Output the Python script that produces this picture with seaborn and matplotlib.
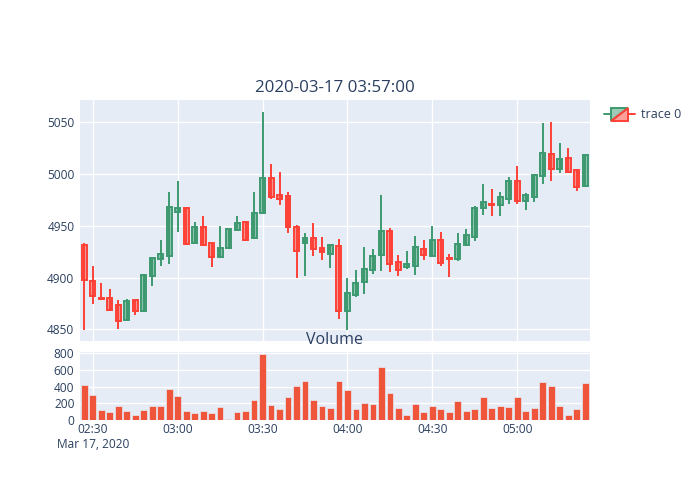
import numpy as np
import pandas as pd
import matplotlib
matplotlib.use("Agg")
import matplotlib.pyplot as plt
from matplotlib.patches import Polygon
from matplotlib.lines import Line2D
from matplotlib.legend_handler import HandlerBase
import seaborn as sns

# 3-minute candles, 2020-03-17 02:27 -> 05:24
times = pd.date_range("2020-03-17 02:27", periods=60, freq="3min")

open_ = [4931.9, 4896.8, 4880.6, 4880.3, 4873.9, 4858.7, 4878.1, 4867.7, 4901.9, 4918.1,
         4920.6, 4963.5, 4966.8, 4933.5, 4948.4, 4932.9, 4919.4, 4929.0, 4945.8, 4953.5,
         4938.4, 4961.9, 4996.5, 4980.0, 4978.7, 4949.0, 4933.5, 4938.4, 4928.7, 4923.2,
         4930.6, 4867.7, 4882.9, 4895.8, 4907.1, 4921.6, 4944.8, 4914.8, 4909.7, 4911.3,
         4927.1, 4921.0, 4936.1, 4919.0, 4917.7, 4931.3, 4939.4, 4967.4, 4971.3, 4969.7,
         4975.5, 4993.5, 4973.9, 4978.1, 4998.1, 5019.4, 5004.5, 5015.2, 5003.5, 4988.4]
high = [4933.5, 4911.6, 4894.8, 4889.4, 4878.7, 4879.7, 4878.7, 4903.0, 4920.0, 4936.1,
        4982.3, 4992.9, 4967.0, 4953.2, 4959.7, 4934.0, 4949.7, 4947.0, 4959.7, 4954.5,
        4982.9, 5059.7, 5009.4, 5002.3, 4982.3, 4951.0, 4943.5, 4952.3, 4938.7, 4932.0,
        4937.7, 4899.7, 4907.1, 4929.7, 4927.4, 4979.7, 4947.4, 4921.9, 4925.8, 4940.0,
        4936.1, 4949.7, 4944.2, 4922.3, 4942.6, 4946.8, 4969.0, 4990.0, 4985.2, 4982.9,
        4997.4, 5007.7, 4981.9, 5000.0, 5049.0, 5050.0, 5029.7, 5024.8, 5004.5, 5018.5]
low = [4849.7, 4874.8, 4878.1, 4867.7, 4850.6, 4858.0, 4864.2, 4867.0, 4892.3, 4911.3,
       4913.5, 4944.2, 4931.3, 4933.0, 4930.6, 4910.3, 4919.0, 4928.0, 4945.0, 4935.2,
       4937.7, 4961.0, 4975.5, 4970.0, 4943.5, 4900.0, 4901.3, 4921.0, 4916.8, 4909.4,
       4860.3, 4849.7, 4881.3, 4884.5, 4903.2, 4906.5, 4905.5, 4901.9, 4908.7, 4902.3,
       4916.8, 4920.0, 4911.3, 4900.6, 4916.1, 4930.6, 4935.2, 4960.3, 4959.7, 4959.7,
       4970.6, 4970.6, 4965.2, 4972.6, 4990.3, 4993.2, 5000.6, 5001.3, 4983.9, 4988.0]
close = [4898.1, 4881.9, 4879.0, 4869.0, 4857.7, 4877.1, 4867.7, 4902.9, 4919.0, 4922.3,
         4968.4, 4967.4, 4932.3, 4948.4, 4931.3, 4920.0, 4928.1, 4946.5, 4952.3, 4936.1,
         4961.9, 4996.5, 4978.1, 4975.5, 4948.4, 4925.8, 4938.4, 4927.7, 4924.2, 4931.9,
         4867.7, 4885.2, 4895.2, 4908.1, 4921.0, 4945.2, 4913.5, 4907.7, 4913.5, 4929.7,
         4921.3, 4936.1, 4914.2, 4917.7, 4932.3, 4941.0, 4966.8, 4973.2, 4969.7, 4977.4,
         4993.5, 4973.9, 4979.7, 4999.0, 5020.6, 5004.5, 5014.2, 5002.3, 4987.1, 5018.1]
volume = [416, 303, 121, 93, 170, 105, 61, 121, 166, 170,
          376, 291, 105, 89, 105, 82, 156, 8, 98, 111,
          238, 795, 176, 131, 279, 414, 463, 242, 172, 144,
          472, 365, 131, 205, 189, 640, 320, 139, 57, 189,
          98, 172, 127, 98, 225, 107, 135, 271, 144, 164,
          152, 271, 103, 148, 459, 414, 168, 66, 135, 439]

tick_times = pd.date_range("2020-03-17 02:30", "2020-03-17 05:00", freq="30min")
tick_labels = ["02:30\nMar 17, 2020", "03:00", "03:30", "04:00", "04:30", "05:00"]
title = "2020-03-17 03:57:00"

UP = "#3D9970"
DOWN = "#FF4136"
BAR = "#EF553B"
BG = "#E5ECF6"
TXT = "#2a3f5f"

sns.set_theme(style="darkgrid", rc={
    "axes.facecolor": BG, "grid.color": "white", "grid.linewidth": 1.0,
    "axes.edgecolor": BG, "xtick.color": TXT, "ytick.color": TXT,
    "text.color": TXT, "axes.labelcolor": TXT,
})
plt.rcParams["font.family"] = ["Open Sans", "DejaVu Sans"]

df = pd.DataFrame({"time": times, "open": open_, "high": high,
                   "low": low, "close": close, "volume": volume})
df["minute"] = (df["time"] - times[0]).dt.total_seconds() / 60
tick_pos = (tick_times - times[0]).total_seconds() / 60
df["up"] = df["close"] >= df["open"]

fig = plt.figure(figsize=(7, 5), dpi=100)
ax = fig.add_axes([80 / 700, 1 - 341 / 500, 510 / 700, 241 / 500])
ax2 = fig.add_axes([80 / 700, 1 - 420 / 500, 510 / 700, 68 / 500])

# candles
for up, col in [(True, UP), (False, DOWN)]:
    d = df[df["up"] == up]
    ax.vlines(d["minute"], d["low"], d["high"], color=col, linewidth=1.4, zorder=2)
    ax.bar(d["minute"], (d["close"] - d["open"]).abs(), bottom=d[["open", "close"]].min(axis=1),
           width=1.75, facecolor=matplotlib.colors.to_rgba(col, 0.5), edgecolor=col,
           linewidth=1.4, zorder=3)

# volume
sns.barplot(data=df, x="minute", y="volume", native_scale=True, ax=ax2,
            color=BAR, saturation=1, width=0.8, errorbar=None,
            edgecolor=BG, linewidth=0.5, zorder=3)

xlim = (-1.5, 178.7)
for a in (ax, ax2):
    a.set_xlim(*xlim)
    a.set_xticks(tick_pos)
    a.set_xlabel("")
    a.set_ylabel("")
    a.tick_params(length=0, labelsize=8.6, pad=4)
    for s in a.spines.values():
        s.set_visible(False)
    a.set_axisbelow(True)

ax.set_xticklabels([])
ax.set_ylim(4838.7, 5071.5)
ax.set_yticks([4850, 4900, 4950, 5000, 5050])

ax2.set_ylim(0, 816)
ax2.set_yticks([0, 200, 400, 600, 800])
ax2.set_xticklabels(tick_labels, linespacing=1.25)
ax2.tick_params(axis="x", pad=2)
for lbl in ax2.get_xticklabels():
    lbl.set_verticalalignment("top")

fig.text(335 / 700, 1 - 88 / 500, title, ha="center", va="center", fontsize=12.2, color=TXT)
fig.text(335 / 700, 1 - 340 / 500, "Volume", ha="center", va="center", fontsize=11.5, color=TXT)


class CandleHandler(HandlerBase):
    def create_artists(self, legend, orig_handle, xdescent, ydescent, width, height, fontsize, trans):
        cy = height / 2 - ydescent
        x0 = -xdescent
        bx0 = x0 + width * 7 / 30
        bx1 = x0 + width * 23 / 30
        hh = 4.7
        arts = [
            Line2D([x0, bx0], [cy, cy], color=UP, linewidth=1.4),
            Line2D([bx1, x0 + width], [cy, cy], color=DOWN, linewidth=1.4),
            Polygon([[bx0, cy - hh], [bx0, cy + hh], [bx1, cy + hh]], closed=True,
                    facecolor=matplotlib.colors.to_rgba(UP, 0.5), edgecolor=UP, linewidth=1.4),
            Polygon([[bx0, cy - hh], [bx1, cy - hh], [bx1, cy + hh]], closed=True,
                    facecolor=matplotlib.colors.to_rgba(DOWN, 0.5), edgecolor=DOWN, linewidth=1.4),
        ]
        for art in arts:
            art.set_transform(trans)
        return arts


proxy = object()
fig.legend([proxy], ["trace 0"], handler_map={object: CandleHandler()},
           loc="center left", bbox_to_anchor=(604 / 700, 1 - 115 / 500),
           frameon=False, borderpad=0, borderaxespad=0, handlelength=2.5,
           handletextpad=0.45, fontsize=9, labelcolor=TXT)

fig.savefig("out.png", dpi=100)
